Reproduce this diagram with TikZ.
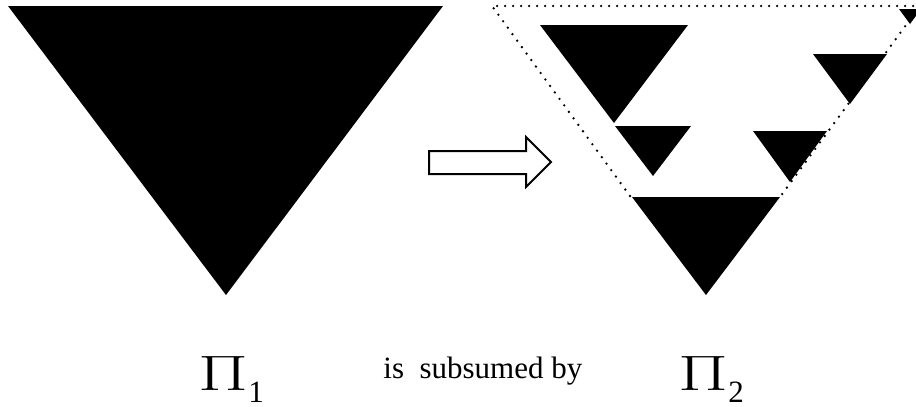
\documentclass[tikz,border=0pt]{standalone}
\usepackage{fontspec}
\usepackage{graphicx}
\setmainfont{Liberation Serif}
\newcommand{\bigpi}[1]{{\fontsize{26.5}{27}\selectfont\scalebox{1.45}[1]{$\Pi$}}\raisebox{-6pt}{#1}}
\begin{document}
\begin{tikzpicture}[x=0.5pt, y=-0.5pt,
  tri/.style={fill=black},
  outline/.style={line width=1.3pt, dash pattern=on 0pt off 4pt, line cap=round},
  label/.style={font=\fontsize{15.5}{16}\selectfont, inner sep=0pt}]
\useasboundingbox (0,0) rectangle (916,407);

% left tree
\fill[tri] (8,6) -- (443,6) -- (226,295) -- cycle;

% arrow
\draw[line width=1pt, fill=white] (429,151) -- (526,151) -- (526,137) -- (551,162)
  -- (526,187) -- (526,174) -- (429,174) -- cycle;

% right tree
\draw[outline] (630,196) -- (492,6) -- (920,6) -- (780,197);
\fill[tri] (540,25) -- (688,25) -- (614,123) -- cycle;
\fill[tri] (615,126) -- (691,126) -- (653,176) -- cycle;
\fill[tri] (813,54) -- (887,54) -- (850,104) -- cycle;
\fill[tri] (753,131) -- (827,131) -- (790,182) -- cycle;
\fill[tri] (632,197) -- (780,197) -- (706,295) -- cycle;
\fill[tri] (899,9) -- (921,9) -- (910,24) -- cycle;

% labels
\node[label, anchor=base west] (pione) at (198,390) {\bigpi{1}};
\node[label, anchor=base west] (subsumed) at (383,378) {is\ \ subsumed by};
\node[label, anchor=base west] (pitwo) at (678,390) {\bigpi{2}};
\end{tikzpicture}
\end{document}
